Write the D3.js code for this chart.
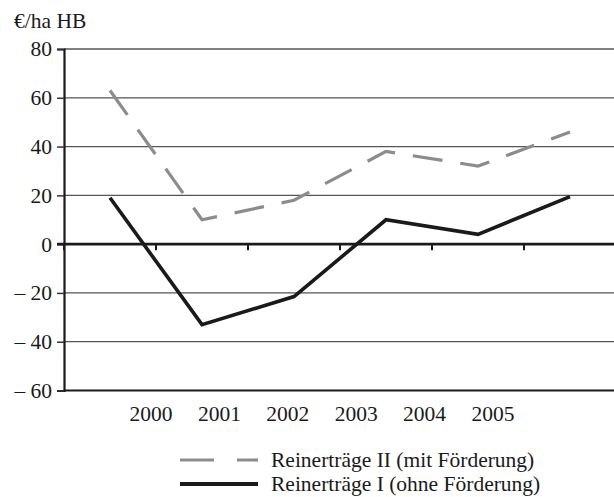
<!DOCTYPE html>
<html>
<head>
<meta charset="utf-8">
<script src="https://cdn.jsdelivr.net/npm/d3@7"></script>
<style>
  html, body { margin: 0; padding: 0; background: #fff; }
  svg { display: block; }
</style>
</head>
<body>
<svg id="chart" width="614" height="497"></svg>
<script>
const years = ["2000", "2001", "2002", "2003", "2004", "2005"];
const reinertraegeII = [63, 10, 18, 38, 32, 46];   // mit Förderung
const reinertraegeI = [19, -33, -21.5, 10, 4, 19.5]; // ohne Förderung
const yTicks = [-60, -40, -20, 0, 20, 40, 60, 80];
const unitLabel = "€/ha HB";
const legendLabels = ["Reinerträge II (mit Förderung)", "Reinerträge I (ohne Förderung)"];

const FONT = "Liberation Serif";
const svg = d3.select("#chart");
const fs = 21.5;

const x = d3.scaleBand().domain(years).range([64, 616]).padding(0);
const xLabel = d3.scalePoint().domain(years).range([151, 493]);
const y = d3.scaleLinear().domain([-60, 80]).range([390.5, 49]);

// gridlines
svg.append("g").selectAll("line")
  .data(yTicks.filter(d => d !== 0 && d !== -60))
  .join("line")
  .attr("x1", 64).attr("x2", 614)
  .attr("y1", d => y(d)).attr("y2", d => y(d))
  .attr("stroke", "#555").attr("stroke-width", 1.3);

// bottom line
svg.append("line")
  .attr("x1", 64).attr("x2", 614)
  .attr("y1", y(-60)).attr("y2", y(-60))
  .attr("stroke", "#1a1a1a").attr("stroke-width", 2);

// y axis
const yAxis = svg.append("g")
  .attr("transform", "translate(64,0)")
  .call(d3.axisLeft(y).tickValues(yTicks).tickSize(7).tickPadding(5)
    .tickFormat(d => d < 0 ? "\u2013 " + Math.abs(d) : String(d)));
yAxis.attr("font-family", null).attr("font-size", null);
yAxis.select(".domain").attr("stroke", "#1a1a1a").attr("stroke-width", 2.2);
yAxis.selectAll(".tick line").attr("stroke", "#333").attr("stroke-width", 1.5);
yAxis.selectAll(".tick text")
  .style("font-family", FONT)
  .style("font-size", fs + "px")
  .attr("fill", "#1a1a1a");

// zero line with ticks at band boundaries
svg.append("line")
  .attr("x1", 57).attr("x2", 614)
  .attr("y1", y(0)).attr("y2", y(0))
  .attr("stroke", "#1a1a1a").attr("stroke-width", 2.6);
svg.append("g").selectAll("line")
  .data(years)
  .join("line")
  .attr("x1", d => x(d)).attr("x2", d => x(d))
  .attr("y1", y(0)).attr("y2", y(0) + 6)
  .attr("stroke", "#1a1a1a").attr("stroke-width", 2);

// year labels
svg.append("g").selectAll("text")
  .data(years)
  .join("text")
  .attr("x", d => xLabel(d))
  .attr("y", 421)
  .attr("text-anchor", "middle")
  .style("font-family", FONT)
  .style("font-size", fs + "px")
  .attr("fill", "#1a1a1a")
  .text(d => d);

// unit label
svg.append("text")
  .attr("x", 14).attr("y", 28)
  .style("font-family", FONT)
  .style("font-size", fs + "px")
  .attr("fill", "#1a1a1a")
  .text(unitLabel);

const line = d3.line()
  .x((d, i) => x(years[i]) + x.bandwidth() / 2)
  .y(d => y(d));

svg.append("path")
  .datum(reinertraegeII)
  .attr("d", line)
  .attr("fill", "none")
  .attr("stroke", "#8c8c8c")
  .attr("stroke-width", 3.2)
  .attr("stroke-dasharray", "30,18");

svg.append("path")
  .datum(reinertraegeI)
  .attr("d", line)
  .attr("fill", "none")
  .attr("stroke", "#1a1a1a")
  .attr("stroke-width", 3.6)
  .attr("stroke-linejoin", "miter");

// legend
const legend = svg.append("g");
const legendY = [460, 484];
legend.append("line")
  .attr("x1", 180).attr("x2", 258)
  .attr("y1", legendY[0]).attr("y2", legendY[0])
  .attr("stroke", "#8c8c8c").attr("stroke-width", 3.2)
  .attr("stroke-dasharray", "34,23");
legend.append("line")
  .attr("x1", 180).attr("x2", 258)
  .attr("y1", legendY[1]).attr("y2", legendY[1])
  .attr("stroke", "#1a1a1a").attr("stroke-width", 4);
legend.selectAll("text")
  .data(legendLabels)
  .join("text")
  .attr("x", 271)
  .attr("y", (d, i) => legendY[i])
  .attr("dy", "0.33em")
  .style("font-family", FONT)
  .style("font-size", fs + "px")
  .attr("fill", "#1a1a1a")
  .text(d => d);
</script>
</body>
</html>
